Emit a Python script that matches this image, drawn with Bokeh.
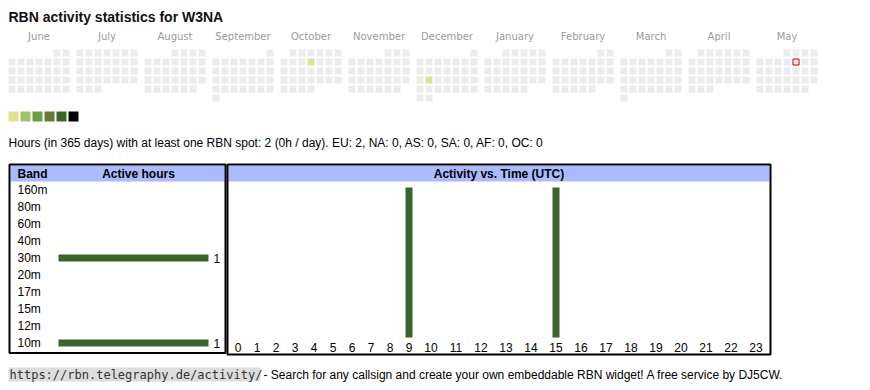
import datetime as dt
from bokeh.plotting import figure
from bokeh.models import Range1d
from bokeh.core.properties import value
from bokeh.embed import file_html
from bokeh.resources import INLINE

# ---------------- data ----------------
callsign = "W3NA"
month_names = ["June", "July", "August", "September", "October", "November",
               "December", "January", "February", "March", "April", "May"]
month_years = [2024, 2024, 2024, 2024, 2024, 2024, 2024, 2025, 2025, 2025, 2025, 2025]
month_numbers = [6, 7, 8, 9, 10, 11, 12, 1, 2, 3, 4, 5]
active_dates = ["2024-10-10", "2024-12-17"]
active_date_hours = [1, 1]
today = "2025-05-09"
level_colors = ["#dde38b", "#9ec46b", "#6aa043", "#66793a", "#3d6428", "#000000"]
bands = ["160m", "80m", "60m", "40m", "30m", "20m", "17m", "15m", "12m", "10m"]
band_hours = [0, 0, 0, 0, 1, 0, 0, 0, 0, 1]
utc_hours = ["0", "1", "2", "3", "4", "5", "6", "7", "8", "9", "10", "11",
             "12", "13", "14", "15", "16", "17", "18", "19", "20", "21", "22", "23"]
hour_activity = [0, 0, 0, 0, 0, 0, 0, 0, 0, 1, 0, 0, 0, 0, 0, 1, 0, 0, 0, 0, 0, 0, 0, 0]
continents = ["EU", "NA", "AS", "SA", "AF", "OC"]
continent_hours = [2, 0, 0, 0, 0, 0]
total_hours = 2
days_span = 365
footer_url = "https://rbn.telegraphy.de/activity/"
footer_text = "- Search for any callsign and create your own embeddable RBN widget! A free service by DJ5CW."

# ---------------- styles ----------------
SANS = value("Liberation Sans")
GREY_CELL = "#ebebeb"
BAR = "#3d6428"
HEAD = "#aabbff"

W, H = 862, 382
p = figure(width=W, height=H, output_backend="svg", toolbar_location=None,
           x_range=Range1d(0, W), y_range=Range1d(H, 0),
           min_border=0, outline_line_color=None)
p.axis.visible = False
p.grid.visible = False
p.background_fill_color = "white"

# title
p.text(x=[8], y=[16.5], text=[f"RBN activity statistics for {callsign}"], text_font=SANS,
       text_font_size="14px", text_font_style="bold", text_baseline="middle", text_color="#111111")

# ---------------- calendar ----------------
MX0, MPITCH, CELL, CPITCH, ROW0 = 8, 68, 7, 9, 49
active = {d: h for d, h in zip(active_dates, active_date_hours)}
cl, cr, ct, cb, cc = [], [], [], [], []
lab_x, lab_t = [], []
tx = ty = None
for i, (name, yr, mo) in enumerate(zip(month_names, month_years, month_numbers)):
    x0 = MX0 + MPITCH * i
    lab_x.append(x0 + (7 * CPITCH - 2) / 2)
    lab_t.append(name)
    first = dt.date(yr, mo, 1)
    nxt = dt.date(yr + (mo == 12), mo % 12 + 1, 1)
    fw = first.weekday()
    d = first
    while d < nxt:
        row = (d.day - 1 + fw) // 7
        left = x0 + CPITCH * d.weekday()
        top = ROW0 + CPITCH * row
        key = d.isoformat()
        col = GREY_CELL
        if key in active:
            col = level_colors[min(active[key], 6) - 1]
        cl.append(left); cr.append(left + CELL); ct.append(top); cb.append(top + CELL); cc.append(col)
        if key == today:
            tx, ty = left, top
        d += dt.timedelta(days=1)

p.quad(left=cl, right=cr, top=ct, bottom=cb, fill_color=cc, line_color=None)
if tx is not None:
    p.quad(left=[tx + 0.5], right=[tx + CELL - 0.5], top=[ty + 0.5], bottom=[ty + CELL - 0.5],
           fill_color=None, line_color="#e00000", line_width=1)
p.text(x=lab_x, y=[35.5] * len(lab_x), text=lab_t, text_font=value("DejaVu Sans"),
       text_font_size="10px", text_align="center", text_baseline="middle", text_color="#9a9a9a")

# legend squares
lx = [8 + 12 * k for k in range(len(level_colors))]
p.quad(left=lx, right=[x + 10 for x in lx], top=[111] * 6, bottom=[121] * 6,
       fill_color=level_colors, line_color=None)

# summary
cont = ", ".join(f"{c}: {h}" for c, h in zip(continents, continent_hours))
summary = (f"Hours (in {days_span} days) with at least one RBN spot: {total_hours} "
           f"({total_hours // days_span}h / day). {cont}")
p.text(x=[8], y=[142.5], text=[summary], text_font=SANS, text_font_size="12px",
       text_baseline="middle", text_color="#000000")

# ---------------- band table ----------------
LB_L, LB_R, TB_T, LB_B = 9, 225, 164, 352.5
p.quad(left=[LB_L + 1], right=[LB_R - 1], top=[TB_T + 1], bottom=[181], fill_color=HEAD, line_color=None)
p.quad(left=[LB_L], right=[LB_R], top=[TB_T], bottom=[LB_B], fill_color=None,
       line_color="black", line_width=2)
p.text(x=[17], y=[173], text=["Band"], text_font=SANS, text_font_size="12px",
       text_font_style="bold", text_baseline="middle")
p.text(x=[138], y=[173], text=["Active hours"], text_font=SANS, text_font_size="12px",
       text_font_style="bold", text_baseline="middle", text_align="center")
row_y = [189.5 + 17 * k for k in range(len(bands))]
p.text(x=[17] * len(bands), y=row_y, text=bands, text_font=SANS, text_font_size="12px",
       text_baseline="middle")
bmax = max(band_hours)
BAR_X0, BAR_LEN = 58, 150
bl, br, bt, bb, vx, vy, vt = [], [], [], [], [], [], []
for y, h in zip(row_y, band_hours):
    if h > 0:
        bl.append(BAR_X0); br.append(BAR_X0 + BAR_LEN * h / bmax)
        bt.append(y - 3.5); bb.append(y + 3.5)
        vx.append(BAR_X0 + BAR_LEN * h / bmax + 5); vy.append(y); vt.append(str(h))
p.quad(left=bl, right=br, top=bt, bottom=bb, fill_color=BAR, line_color=None)
p.text(x=vx, y=vy, text=vt, text_font=SANS, text_font_size="12px", text_baseline="middle")

# ---------------- time table ----------------
RB_L, RB_R, RB_B = 227, 770, 354
p.quad(left=[RB_L + 1], right=[RB_R - 1], top=[TB_T + 1], bottom=[181], fill_color=HEAD, line_color=None)
p.quad(left=[RB_L], right=[RB_R], top=[TB_T], bottom=[RB_B], fill_color=None,
       line_color="black", line_width=2)
p.text(x=[(RB_L + RB_R) / 2], y=[173], text=["Activity vs. Time (UTC)"], text_font=SANS,
       text_font_size="12px", text_font_style="bold", text_baseline="middle", text_align="center")
centers = []
xc = RB_L + 1
for lab in utc_hours:
    w = 13 + 6 * len(lab)
    centers.append(xc + w / 2)
    xc += w
p.text(x=centers, y=[346.5] * 24, text=utc_hours, text_font=SANS, text_font_size="12px",
       text_baseline="middle", text_align="center")
hmax = max(hour_activity)
VB_BOT, VB_LEN = 337, 150
hl, hr, ht, hb = [], [], [], []
for c, v in zip(centers, hour_activity):
    if v > 0:
        hl.append(c - 3.5); hr.append(c + 3.5); hb.append(VB_BOT); ht.append(VB_BOT - VB_LEN * v / hmax)
p.quad(left=hl, right=hr, top=ht, bottom=hb, fill_color=BAR, line_color=None)

# ---------------- footer ----------------
p.quad(left=[8], right=[260], top=[367], bottom=[381], fill_color="#dddddd", line_color=None)
p.text(x=[9], y=[374], text=[footer_url], text_font=value("DejaVu Sans Mono"),
       text_font_size="12px", text_baseline="middle", text_color="#333333")
p.text(x=[263], y=[374], text=[footer_text], text_font=SANS, text_font_size="12px",
       text_baseline="middle", text_color="#000000")

open("out.html", "w").write(file_html(p, INLINE))
